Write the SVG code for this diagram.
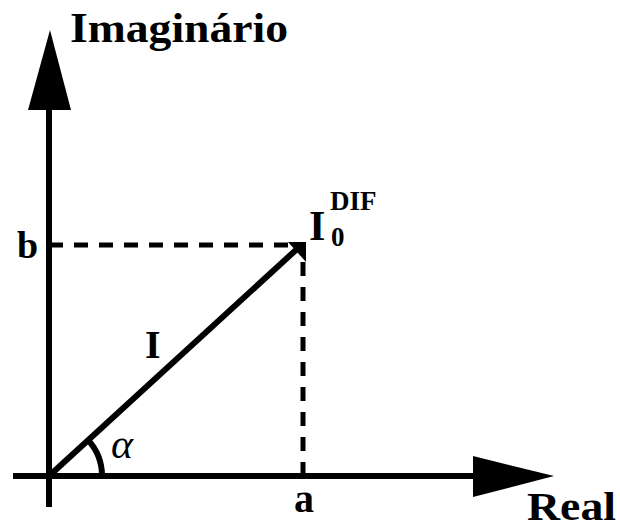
<svg xmlns="http://www.w3.org/2000/svg" width="620" height="528" viewBox="0 0 620 528">
<style>
.ax{stroke:#000;stroke-width:6;fill:none}
.ds{stroke:#000;stroke-width:5;fill:none;stroke-dasharray:14 11}
.lb{font-family:"Liberation Serif",serif;font-weight:bold;fill:#000}
</style>
<rect width="620" height="528" fill="#fff"/>
<g id="connectors">
<line class="ax" x1="49" y1="507" x2="49" y2="100"/>
<polygon points="50,30 28,110 71,110" fill="#000"/>
<line class="ax" x1="13" y1="476" x2="480" y2="476"/>
<polygon points="554,476 473,456 473,497" fill="#000"/>
<line class="ds" x1="49" y1="245" x2="303" y2="245"/>
<line class="ds" x1="303" y1="476" x2="303" y2="245"/>
<line class="ax" x1="49" y1="476" x2="297" y2="249"/>
<polygon points="288,242 306,242 306,262" fill="#000"/>
<path d="M88,440 A53,53 0 0 1 102,476" class="ax" stroke-width="4"/>
</g>
<g id="labels">
<text class="lb" x="70" y="42" font-size="43" textLength="218" lengthAdjust="spacingAndGlyphs">Imaginário</text>
<text class="lb" x="17" y="258" font-size="38">b</text>
<text class="lb" x="145" y="358" font-size="40">I</text>
<text x="111" y="458" font-family="Liberation Serif,serif" font-style="italic" font-size="42" fill="#000">α</text>
<text class="lb" x="294" y="512" font-size="40">a</text>
<text class="lb" x="527" y="520" font-size="39" textLength="89" lengthAdjust="spacingAndGlyphs">Real</text>
<g id="I0DIF">
<text class="lb" x="309" y="240" font-size="42">I</text>
<text class="lb" x="331" y="246" font-size="27">0</text>
<text class="lb" x="330" y="210" font-size="27">DIF</text>
</g>
</g>
</svg>
